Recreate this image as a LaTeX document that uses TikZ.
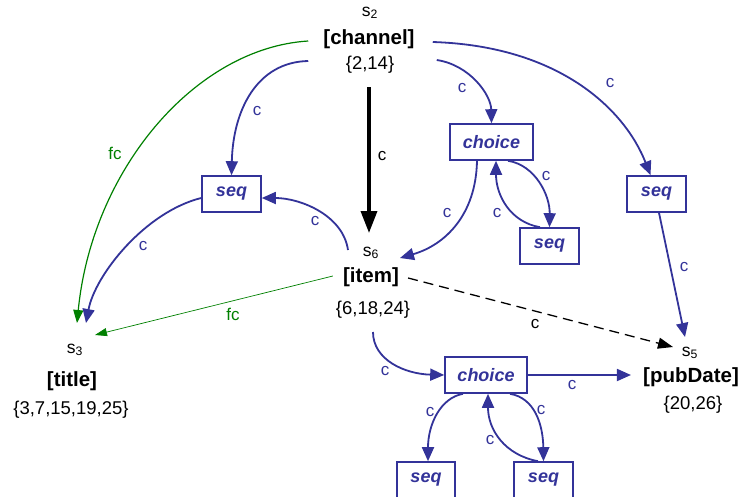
\documentclass[tikz,border=0pt]{standalone}
\usepackage{fontspec}
\setmainfont{Liberation Sans}
\usetikzlibrary{arrows.meta}
\definecolor{bl}{RGB}{51,51,153}
\definecolor{gr}{RGB}{0,128,0}
\begin{document}
\begin{tikzpicture}[x=1pt,y=-1pt,
  nm/.style={inner sep=0pt,font=\fontsize{20.5}{24}\selectfont\bfseries},
  st/.style={inner sep=0pt,font=\fontsize{18.5}{22}\selectfont},
  sv/.style={inner sep=0pt,font=\fontsize{17.5}{20}\selectfont},
  box/.style={draw=bl,line width=1.6pt,inner sep=0pt,minimum height=36pt,text=bl,
    font=\fontsize{18}{21}\selectfont\bfseries\itshape},
  lb/.style={inner sep=0pt,font=\fontsize{17}{19}\selectfont,text=bl},
  lbk/.style={lb,text=black},
  lbg/.style={lb,text=gr},
  ce/.style={draw=bl,line width=1.8pt,-{Triangle[length=14pt,width=12pt]}},
  bk/.style={draw=black,line width=3.5pt,-{Triangle[length=22pt,width=16pt]}},
  gce/.style={draw=gr,line width=1.2pt,-{Triangle[length=13pt,width=10pt]}},
  gthin/.style={draw=gr,line width=0.7pt,-{Triangle[length=12pt,width=8pt]}},
  dsh/.style={draw=black,line width=1.3pt,dash pattern=on 10pt off 6pt,-{Triangle[length=15pt,width=11pt]}}
]
\useasboundingbox (0,0) rectangle (745,496);
\clip (0,0) rectangle (745,496);

% element nodes
\node[sv] (s2) at (370,13) {s\textsubscript{2}};
\node[nm] (chan) at (369,39) {[channel]};
\node[st] (chanset) at (370,65) {\{2,14\}};
\node[sv] (s6) at (371,253) {s\textsubscript{6}};
\node[nm] (item) at (371,277) {[item]};
\node[st] (itemset) at (373,310) {\{6,18,24\}};
\node[sv] (s3) at (75,350) {s\textsubscript{3}};
\node[nm] (title) at (72,381) {[title]};
\node[st] (titleset) at (71,410) {\{3,7,15,19,25\}};
\node[sv] (s5) at (690,353) {s\textsubscript{5}};
\node[nm] (pub) at (691,377) {[pubDate]};
\node[st] (pubset) at (693,405) {\{20,26\}};

% boxes
\node[box,minimum width=59pt] (seqL) at (231.5,194) {seq};
\node[box,minimum width=83pt] (choiceT) at (491.5,142) {choice};
\node[box,minimum width=59pt] (seqS) at (549.5,246) {seq};
\node[box,minimum width=59pt] (seqR) at (656.5,194) {seq};
\node[box,minimum width=82pt] (choiceB) at (486,375) {choice};
\node[box,minimum width=58pt] (seqBL) at (426,480) {seq};
\node[box,minimum width=59pt] (seqBR) at (543.5,480) {seq};

% connectors
\draw[gce] ([xshift=-15pt,yshift=-2pt]chan.west) .. controls (195,48) and (92,170) .. ([xshift=2pt,yshift=27pt]s3.center);
\draw[ce] ([xshift=-15pt,yshift=-22pt]chan.west) .. controls (257,62) and (233,110) .. (seqL.north);
\draw[bk] ([xshift=-1pt,yshift=-22pt]chanset.center) -- ([xshift=-2pt,yshift=20pt]s6.center);
\draw[ce] ([xshift=22pt,yshift=-21pt]chan.east) .. controls (470,65) and (491,95) .. (choiceT.north);
\draw[ce] ([xshift=18pt,yshift=-3pt]chan.east) .. controls (560,46) and (625,110) .. ([xshift=-6pt]seqR.north);
\draw[ce] ([yshift=-4pt]seqL.west) .. controls (145,212) and (95,275) .. ([xshift=11pt,yshift=27pt]s3.center);
\draw[ce] ([xshift=-23pt,yshift=3pt]s6.center) .. controls (343,215) and (300,198) .. ([yshift=-4pt]seqL.east);
\draw[ce] ([xshift=-14.5pt]choiceT.south) .. controls (476,215) and (445,245) .. ([xshift=29pt,yshift=-5pt]s6.center);
\draw[ce] ([xshift=16.5pt]choiceT.south) .. controls (535,165) and (550,195) .. (seqS.north);
\draw[ce] ([xshift=-9.5pt]seqS.north) .. controls (510,222) and (496,195) .. ([xshift=4.5pt]choiceT.south);
\draw[ce] ([xshift=2.5pt]seqR.south) -- ([xshift=-5pt,yshift=16pt]s5.center);
\draw[gthin] ([xshift=-10pt,yshift=1pt]item.west) -- ([xshift=20pt,yshift=15pt]s3.center);
\draw[dsh] ([xshift=9pt,yshift=-1pt]item.east) -- ([xshift=-17pt,yshift=6pt]s5.center);
\draw[ce] ([yshift=-22pt]itemset.center) .. controls (373,360) and (405,374) .. (choiceB.west);
\draw[ce] (choiceB.east) -- ([xshift=-12pt]choiceB.east -| pub.west);
\draw[ce] ([xshift=-23pt]choiceB.south) .. controls (440,398) and (428,425) .. ([xshift=2pt]seqBL.north);
\draw[ce] ([xshift=24pt]choiceB.south) .. controls (535,398) and (543,425) .. (seqBR.north);
\draw[ce] ([xshift=-5.5pt]seqBR.north) .. controls (505,455) and (488,430) .. ([xshift=2pt]choiceB.south);

% labels
\node[lbg] (l1) at (115,153) {fc};
\node[lb] (l2) at (257,111) {c};
\node[lbk] (l3) at (382,156) {c};
\node[lb] (l4) at (462,88) {c};
\node[lb] (l5) at (610,83) {c};
\node[lb] (l6) at (143,246) {c};
\node[lb] (l7) at (315,221) {c};
\node[lb] (l8) at (447,213) {c};
\node[lb] (l9) at (546,176) {c};
\node[lb] (l10) at (497,213) {c};
\node[lb] (l11) at (684,267) {c};
\node[lbg] (l12) at (233,314) {fc};
\node[lbk] (l13) at (535,324) {c};
\node[lb] (l14) at (385,371) {c};
\node[lb] (l15) at (572,385) {c};
\node[lb] (l16) at (430,412) {c};
\node[lb] (l17) at (541,410) {c};
\node[lb] (l18) at (490,440) {c};
\end{tikzpicture}
\end{document}
